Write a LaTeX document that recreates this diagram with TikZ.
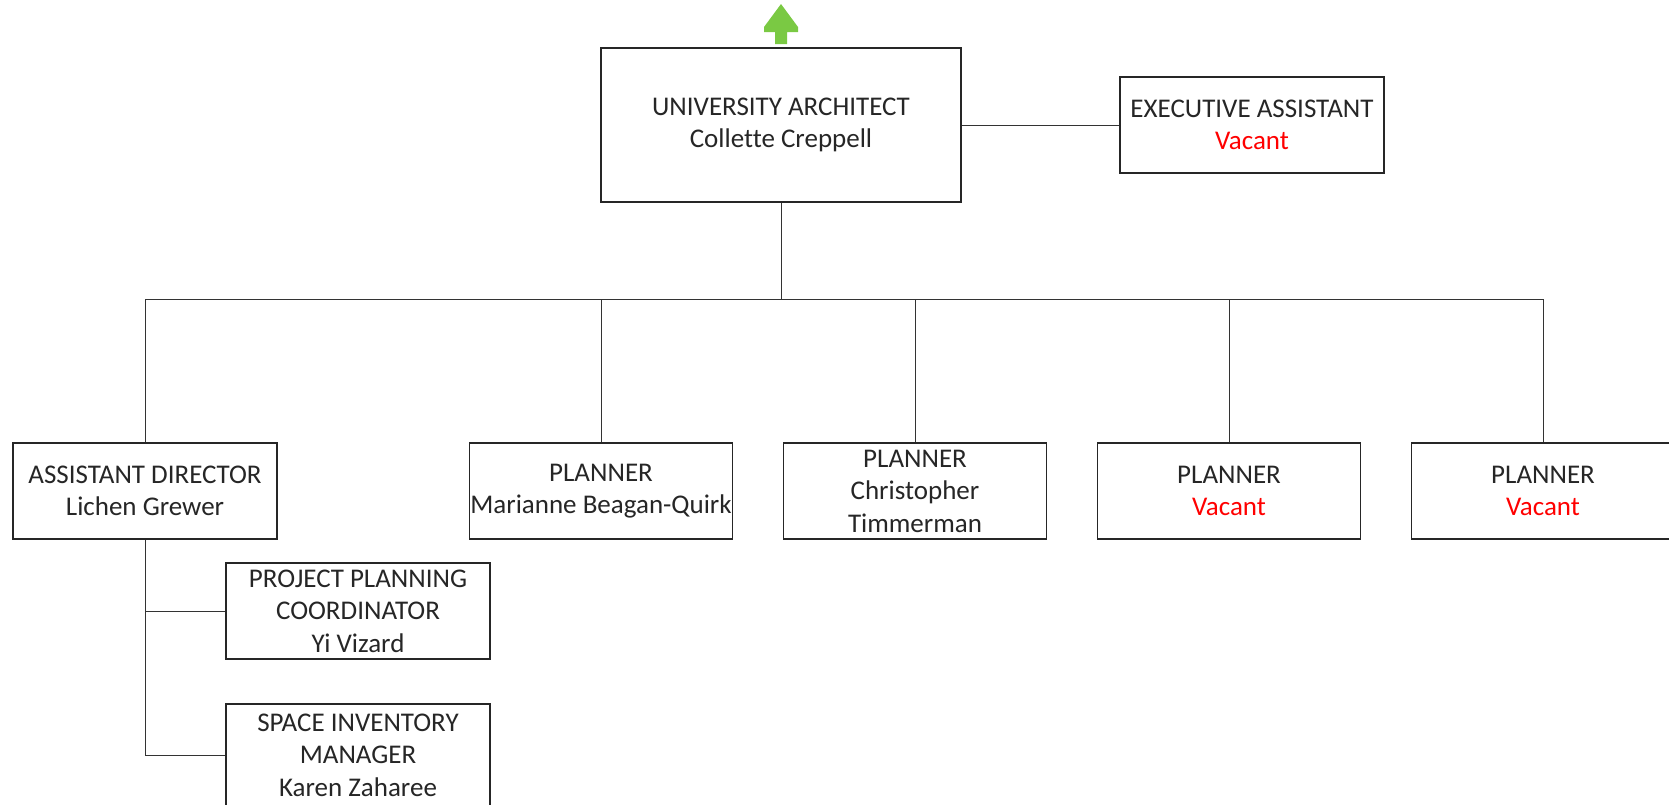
\documentclass[tikz,border=0pt]{standalone}
\usepackage{fontspec}
\setmainfont[Ligatures=NoCommon]{Carlito}
\usepackage{xcolor}
\definecolor{vacantred}{HTML}{FF0000}
\definecolor{upgreen}{HTML}{7AC943}
\newcommand{\vacant}{\textcolor{vacantred}{Vacant}}

\begin{document}
\begin{tikzpicture}[x=1pt,y=-1pt,
    post/.style={draw=black!85, line width=1.2pt, fill=white, align=center,
      inner sep=0pt, minimum width=264pt, minimum height=96pt,
      font=\fontsize{27}{32.5}\selectfont, text=black!85},
    link/.style={draw=black!80, line width=1pt}]
  \useasboundingbox (0,0) rectangle (1669,804);

  % Top level
  \node[post, minimum width=360pt, minimum height=154pt] (ua) at (781,125)
    {UNIVERSITY ARCHITECT\\Collette Creppell};
  \node[post] (ea) at (1252,125) {EXECUTIVE ASSISTANT\\\vacant};

  % Green arrow above the top box
  \fill[upgreen] (781,4) -- (798,27) -- (798,32) -- (787,32) -- (787,44)
    -- (775,44) -- (775,32) -- (764,32) -- (764,27) -- cycle;

  % Second level
  \node[post] (ad)  at (145,491)  {ASSISTANT DIRECTOR\\Lichen Grewer};
  \node[post, minimum width=263pt] (pl1) at (601,491)  {PLANNER\\Marianne Beagan-Quirk};
  \node[post, minimum width=263pt] (pl2) at (915,491)  {PLANNER\\Christopher\\Timmerman};
  \node[post, minimum width=263pt] (pl3) at (1229,491) {PLANNER\\\vacant};
  \node[post, minimum width=263pt] (pl4) at (1543,491) {PLANNER\\\vacant};

  % Under the assistant director
  \node[post] (ppc) at (358,611) {PROJECT PLANNING\\COORDINATOR\\Yi Vizard};
  \node[post, minimum height=102pt] (sim) at (358,755)
    {SPACE INVENTORY\\MANAGER\\Karen Zaharee};

  \coordinate (bar) at (781,299);

  % Connectors
  \draw[link] (ua.east) -- (ea.west);
  \draw[link] (ua.south) -- (bar);
  \draw[link] (ad.north) -- (ad.north |- bar) -- (pl4.north |- bar) -- (pl4.north);
  \draw[link] (pl1.north) -- (pl1.north |- bar);
  \draw[link] (pl2.north) -- (pl2.north |- bar);
  \draw[link] (pl3.north) -- (pl3.north |- bar);
  \draw[link] (ad.south) -- (ad.south |- sim.west) -- (sim.west);
  \draw[link] (ad.south |- ppc.west) -- (ppc.west);
\end{tikzpicture}
\end{document}
